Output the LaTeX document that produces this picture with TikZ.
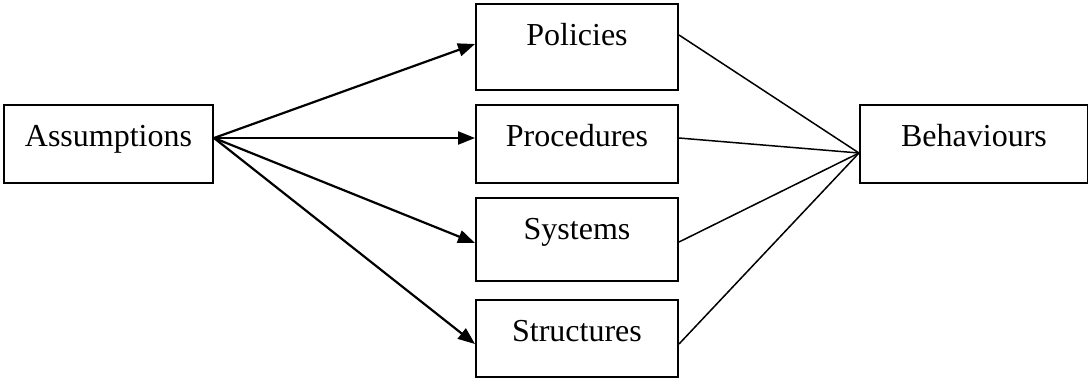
\documentclass[tikz,border=0pt]{standalone}
\usepackage{fontspec}
\setmainfont{Liberation Serif}
\usetikzlibrary{arrows.meta}
\begin{document}
\begin{tikzpicture}[x=0.5pt,y=-0.5pt,
  box/.style={draw,line width=1pt,rectangle,anchor=north west,inner xsep=0pt,inner ysep=0pt,
    align=center,text height=20.5pt,font=\fontsize{16pt}{19pt}\selectfont},
  arr/.style={line width=1.1pt,-{Triangle[length=8.5pt,width=6.5pt]}},
  conn/.style={line width=0.75pt}]
\useasboundingbox (0,0) rectangle (1088,377);
\node[box,minimum width=104.5pt,text depth=18.5pt] (A) at (3,104) {Assumptions};
\node[box,minimum width=101pt,text depth=22.5pt] (P) at (475,3) {Policies};
\node[box,minimum width=101pt,text depth=18.5pt] (Pr) at (475,104) {Procedures};
\node[box,minimum width=101pt,text depth=21pt] (S) at (475,197) {Systems};
\node[box,minimum width=101pt,text depth=18pt] (St) at (475,299) {Structures};
\node[box,minimum width=114pt,text depth=18.5pt] (B) at (859,104) {Behaviours};
\draw[arr] ([yshift=3pt]A.east) -- ([yshift=1.5pt]P.west);
\draw[arr] ([yshift=3pt]A.east) -- ([yshift=3pt]Pr.west);
\draw[arr] ([yshift=3pt]A.east) -- ([yshift=-1.75pt]S.west);
\draw[arr] ([yshift=3pt]A.east) -- ([yshift=-2.75pt]St.west);
\draw[conn] ([yshift=6pt]P.east) -- ([yshift=-4.5pt]B.west);
\draw[conn] ([yshift=3pt]Pr.east) -- ([yshift=-4.5pt]B.west);
\draw[conn] ([yshift=-1.25pt]S.east) -- ([yshift=-4.5pt]B.west);
\draw[conn] ([yshift=-2.75pt]St.east) -- ([yshift=-4.5pt]B.west);
\end{tikzpicture}
\end{document}
